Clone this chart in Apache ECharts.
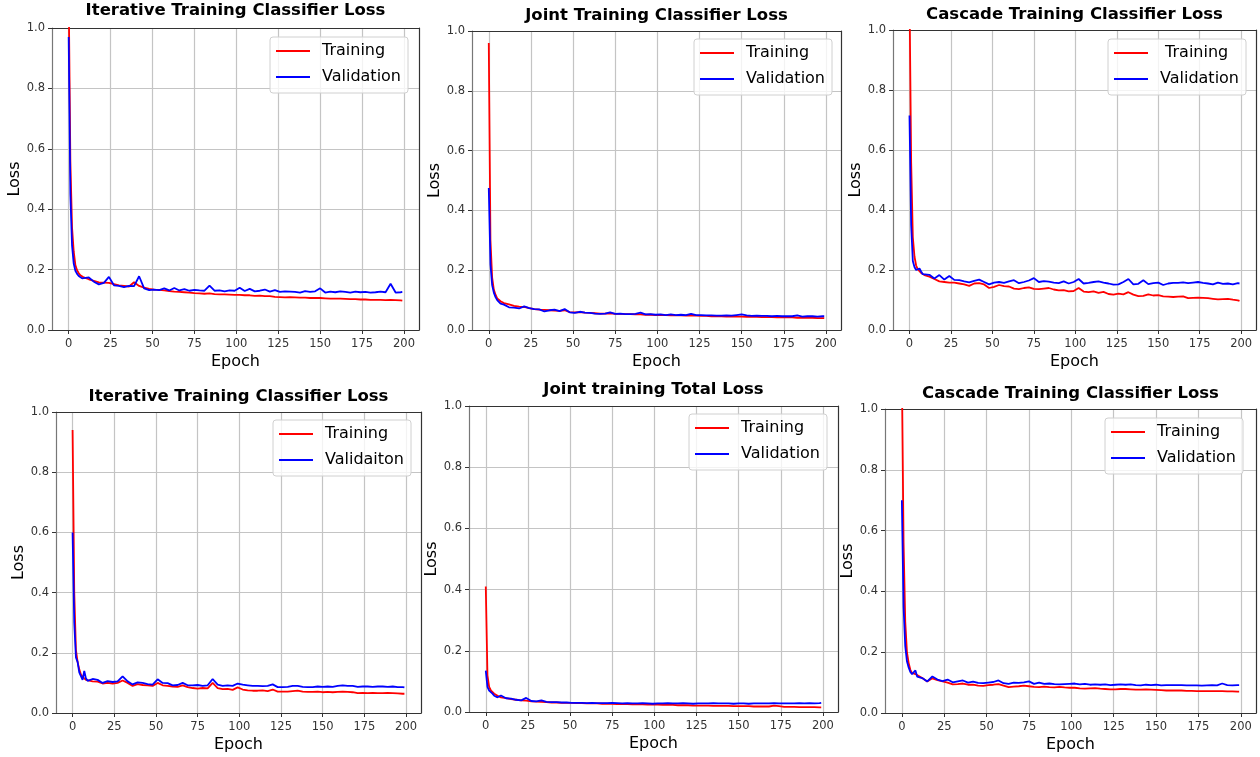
<!DOCTYPE html>
<html>
<head>
<meta charset="utf-8">
<script src="https://cdn.jsdelivr.net/npm/echarts@6/dist/echarts.min.js"></script>
<style>
  html, body { margin: 0; padding: 0; background: #fff; }
  #chart { width: 1260px; height: 757px; }
</style>
</head>
<body>
<div id="chart"></div>
<script>
// epochs the curves were read at (denser at the start, every 3 epochs after)
const epochs = [0, 1, 2, 3, 4, 5, 6, 7, 8, 9,
  12, 15, 18, 21, 24, 27, 30, 33, 36, 39,
  42, 45, 48, 51, 54, 57, 60, 63, 66, 69,
  72, 75, 78, 81, 84, 87, 90, 93, 96, 99,
  102, 105, 108, 111, 114, 117, 120, 123, 126, 129,
  132, 135, 138, 141, 144, 147, 150, 153, 156, 159,
  162, 165, 168, 171, 174, 177, 180, 183, 186, 189,
  192, 195, 198, 199]

const xTicks = [0, 25, 50, 75, 100, 125, 150, 175, 200]
const yTicks = [0, 0.2, 0.4, 0.6, 0.8, 1.0]

// top left: Iterative Training Classifier Loss
const trainIt1 = [1.12, 0.56, 0.34, 0.26, 0.215, 0.198, 0.188, 0.181, 0.177, 0.174,
  0.168, 0.163, 0.158, 0.157, 0.156, 0.152, 0.148, 0.146, 0.144, 0.158,
  0.146, 0.14, 0.136, 0.134, 0.133, 0.131, 0.129, 0.127, 0.126, 0.125,
  0.124, 0.122, 0.121, 0.12, 0.121, 0.119, 0.118, 0.118, 0.117, 0.116,
  0.116, 0.115, 0.115, 0.113, 0.114, 0.112, 0.112, 0.11, 0.109, 0.108,
  0.109, 0.108, 0.107, 0.107, 0.106, 0.106, 0.106, 0.105, 0.104, 0.104,
  0.104, 0.103, 0.102, 0.102, 0.101, 0.101, 0.1, 0.1, 0.1, 0.099,
  0.1, 0.099, 0.098, 0.097]
const valIt1 = [0.97, 0.45, 0.28, 0.22, 0.196, 0.186, 0.179, 0.174, 0.171, 0.169,
  0.174, 0.16, 0.151, 0.156, 0.176, 0.148, 0.146, 0.142, 0.146, 0.145,
  0.178, 0.138, 0.132, 0.134, 0.132, 0.138, 0.131, 0.139, 0.131, 0.135,
  0.13, 0.133, 0.131, 0.13, 0.147, 0.13, 0.131, 0.128, 0.131, 0.13,
  0.14, 0.129, 0.136, 0.128, 0.13, 0.134, 0.127, 0.132, 0.126, 0.128,
  0.127, 0.126, 0.124, 0.129, 0.126, 0.128, 0.138, 0.124, 0.127, 0.125,
  0.128, 0.126, 0.124, 0.127, 0.125, 0.126, 0.124, 0.125, 0.127, 0.125,
  0.153, 0.124, 0.125, 0.126]

// top middle: Joint Training Classifier Loss
const trainJt1 = [0.96, 0.3, 0.175, 0.135, 0.118, 0.106, 0.1, 0.096, 0.093, 0.09,
  0.086, 0.081, 0.078, 0.077, 0.073, 0.07, 0.068, 0.067, 0.066, 0.065,
  0.064, 0.066, 0.06, 0.059, 0.06, 0.058, 0.057, 0.056, 0.055, 0.055,
  0.056, 0.054, 0.054, 0.053, 0.053, 0.052, 0.052, 0.051, 0.051, 0.05,
  0.05, 0.05, 0.049, 0.049, 0.049, 0.048, 0.048, 0.048, 0.047, 0.047,
  0.046, 0.046, 0.046, 0.045, 0.045, 0.045, 0.045, 0.044, 0.044, 0.044,
  0.043, 0.043, 0.043, 0.042, 0.042, 0.042, 0.042, 0.041, 0.041, 0.041,
  0.041, 0.04, 0.04, 0.04]
const valJt1 = [0.475, 0.22, 0.15, 0.125, 0.11, 0.1, 0.096, 0.088, 0.083, 0.085,
  0.076, 0.075, 0.072, 0.079, 0.073, 0.07, 0.069, 0.062, 0.066, 0.068,
  0.063, 0.07, 0.059, 0.057, 0.061, 0.058, 0.057, 0.055, 0.054, 0.055,
  0.059, 0.054, 0.055, 0.053, 0.053, 0.054, 0.058, 0.052, 0.053, 0.051,
  0.052, 0.05, 0.052, 0.05, 0.051, 0.05, 0.054, 0.05, 0.05, 0.049,
  0.049, 0.048, 0.048, 0.049, 0.048, 0.05, 0.052, 0.049, 0.047, 0.048,
  0.047, 0.047, 0.046, 0.047, 0.046, 0.046, 0.046, 0.049, 0.045, 0.046,
  0.046, 0.045, 0.046, 0.046]

// top right: Cascade Training Classifier Loss
const trainCc1 = [1.12, 0.56, 0.31, 0.245, 0.215, 0.202, 0.196, 0.19, 0.186, 0.183,
  0.178, 0.17, 0.162, 0.16, 0.158, 0.158, 0.155, 0.152, 0.147, 0.155,
  0.156, 0.152, 0.14, 0.144, 0.15, 0.146, 0.145, 0.138, 0.136, 0.14,
  0.142, 0.137, 0.136, 0.138, 0.14, 0.135, 0.132, 0.133, 0.129, 0.13,
  0.14, 0.128, 0.126, 0.129, 0.124, 0.127, 0.12, 0.118, 0.121, 0.119,
  0.126, 0.118, 0.113, 0.114, 0.119, 0.115, 0.116, 0.112, 0.111, 0.11,
  0.111, 0.112, 0.106, 0.107, 0.108, 0.107, 0.106, 0.104, 0.102, 0.103,
  0.104, 0.101, 0.099, 0.097]
const valCc1 = [0.715, 0.35, 0.23, 0.21, 0.2, 0.2, 0.205, 0.195, 0.186, 0.18,
  0.184, 0.172, 0.183, 0.168, 0.18, 0.167, 0.166, 0.162, 0.159, 0.164,
  0.168, 0.16, 0.152, 0.158, 0.16, 0.157, 0.162, 0.166, 0.156, 0.16,
  0.165, 0.173, 0.16, 0.163, 0.161, 0.158, 0.156, 0.162, 0.155, 0.16,
  0.17, 0.155, 0.157, 0.16, 0.162, 0.158, 0.155, 0.151, 0.152, 0.16,
  0.17, 0.152, 0.154, 0.166, 0.153, 0.156, 0.158, 0.15, 0.155, 0.157,
  0.157, 0.159, 0.156, 0.158, 0.16, 0.157, 0.155, 0.152, 0.158, 0.154,
  0.155, 0.152, 0.156, 0.155]

// bottom left: Iterative Training Classifier Loss
const trainIt2 = [0.94, 0.4, 0.21, 0.17, 0.145, 0.128, 0.12, 0.115, 0.11, 0.107,
  0.105, 0.104, 0.098, 0.1, 0.098, 0.1, 0.108, 0.1, 0.09, 0.096,
  0.093, 0.092, 0.09, 0.1, 0.092, 0.09, 0.088, 0.087, 0.092, 0.086,
  0.083, 0.081, 0.083, 0.082, 0.1, 0.083, 0.079, 0.08, 0.077, 0.085,
  0.078, 0.075, 0.074, 0.074, 0.075, 0.073, 0.078, 0.071, 0.071, 0.071,
  0.073, 0.074, 0.071, 0.07, 0.07, 0.071, 0.069, 0.07, 0.069, 0.07,
  0.071, 0.07, 0.069, 0.066, 0.067, 0.066, 0.067, 0.066, 0.066, 0.067,
  0.066, 0.065, 0.064, 0.064]
const valIt2 = [0.6, 0.3, 0.185, 0.17, 0.135, 0.13, 0.11, 0.14, 0.115, 0.107,
  0.113, 0.11, 0.1, 0.106, 0.103, 0.105, 0.122, 0.105, 0.095, 0.102,
  0.1, 0.096, 0.094, 0.112, 0.1, 0.099, 0.092, 0.093, 0.1, 0.092,
  0.092, 0.093, 0.09, 0.092, 0.113, 0.094, 0.09, 0.092, 0.09, 0.098,
  0.094, 0.092, 0.09, 0.09, 0.089, 0.09, 0.095, 0.086, 0.086, 0.087,
  0.09, 0.09, 0.087, 0.086, 0.086, 0.088, 0.087, 0.088, 0.087, 0.09,
  0.092, 0.09, 0.09, 0.087, 0.088, 0.088, 0.087, 0.088, 0.088, 0.087,
  0.088, 0.086, 0.086, 0.085]

// bottom middle: Joint training Total Loss
const trainJt2 = [0.41, 0.12, 0.082, 0.071, 0.065, 0.06, 0.056, 0.053, 0.05, 0.048,
  0.045, 0.042, 0.04, 0.038, 0.037, 0.035, 0.034, 0.033, 0.032, 0.031,
  0.031, 0.03, 0.03, 0.03, 0.029, 0.029, 0.028, 0.028, 0.028, 0.027,
  0.027, 0.027, 0.026, 0.026, 0.026, 0.025, 0.025, 0.025, 0.024, 0.024,
  0.024, 0.023, 0.023, 0.023, 0.022, 0.022, 0.022, 0.021, 0.021, 0.021,
  0.021, 0.02, 0.02, 0.02, 0.02, 0.019, 0.019, 0.019, 0.019, 0.018,
  0.018, 0.018, 0.018, 0.021, 0.019, 0.017, 0.017, 0.017, 0.016, 0.016,
  0.016, 0.016, 0.015, 0.015]
const valJt2 = [0.135, 0.082, 0.07, 0.065, 0.06, 0.053, 0.05, 0.048, 0.047, 0.054,
  0.045, 0.044, 0.04, 0.038, 0.046, 0.036, 0.035, 0.038, 0.033, 0.032,
  0.032, 0.031, 0.031, 0.03, 0.03, 0.03, 0.029, 0.03, 0.029, 0.029,
  0.029, 0.03, 0.029, 0.028, 0.029, 0.028, 0.028, 0.029, 0.028, 0.027,
  0.028, 0.028, 0.029, 0.028, 0.028, 0.029, 0.028, 0.027, 0.028, 0.028,
  0.028, 0.029, 0.028, 0.028, 0.028, 0.027, 0.028, 0.028, 0.027, 0.028,
  0.028, 0.028, 0.028, 0.029, 0.028, 0.028, 0.028, 0.028, 0.029, 0.028,
  0.029, 0.028, 0.029, 0.03]

// bottom right: Cascade Training Classifier Loss
const trainCc2 = [1.12, 0.56, 0.3, 0.2, 0.165, 0.142, 0.132, 0.13, 0.128, 0.124,
  0.115, 0.104, 0.114, 0.108, 0.104, 0.1, 0.094, 0.095, 0.097, 0.093,
  0.093, 0.09, 0.089, 0.092, 0.093, 0.095, 0.09, 0.085, 0.087, 0.088,
  0.09, 0.088, 0.086, 0.085, 0.087, 0.085, 0.084, 0.086, 0.084, 0.083,
  0.083, 0.081, 0.08, 0.081, 0.082, 0.08, 0.079, 0.078, 0.078, 0.079,
  0.079, 0.078, 0.077, 0.077, 0.078, 0.077, 0.076, 0.075, 0.074, 0.074,
  0.074, 0.074, 0.073, 0.073, 0.072, 0.072, 0.072, 0.072, 0.072, 0.072,
  0.071, 0.071, 0.07, 0.07]
const valCc2 = [0.7, 0.35, 0.22, 0.17, 0.15, 0.135, 0.128, 0.13, 0.14, 0.12,
  0.115, 0.104, 0.12, 0.11, 0.105, 0.11, 0.101, 0.104, 0.107, 0.1,
  0.103, 0.099, 0.098, 0.1, 0.102, 0.107, 0.098, 0.096, 0.1, 0.099,
  0.101, 0.104, 0.096, 0.1, 0.096, 0.097, 0.095, 0.094, 0.095, 0.096,
  0.097, 0.094, 0.096, 0.093, 0.094, 0.093, 0.094, 0.092, 0.093, 0.094,
  0.093, 0.094, 0.092, 0.091, 0.093, 0.092, 0.093, 0.091, 0.092, 0.092,
  0.092, 0.092, 0.091, 0.091, 0.091, 0.09, 0.091, 0.092, 0.091, 0.097,
  0.092, 0.091, 0.092, 0.092]

const titles = ['Iterative Training Classifier Loss', 'Joint Training Classifier Loss', 'Cascade Training Classifier Loss',
  'Iterative Training Classifier Loss', 'Joint training Total Loss', 'Cascade Training Classifier Loss']
const trainNames = ['Training', 'Training', ' Training', 'Training', 'Training', 'Training']
const valNames = ['Validation', 'Validation', 'Validation', 'Validaiton', 'Validation', 'Validation']
const trainData = [trainIt1, trainJt1, trainCc1, trainIt2, trainJt2, trainCc2]
const valData = [valIt1, valJt1, valCc1, valIt2, valJt2, valCc2]

// plot boxes [left, top, width, height], title top, legend [left, top]
const boxes = [
  [52, 28, 367, 302], [472, 31, 369, 299], [893, 30, 363, 300],
  [56, 412, 365, 301], [469, 406, 369, 306], [885, 409, 371, 304]
]
const titleTops = [2, 7, 6, 388, 381, 385]
const legendPos = [[270, 37], [694, 39], [1108, 39], [273, 420], [689, 414], [1105, 418]]

const font = 'DejaVu Sans'
const xMin = -9.95
const xMax = 208.95

const pairs = (ys) => epochs.map((e, i) => [e, ys[i]])

const grid = [], xAxis = [], yAxis = [], title = [], legend = [], series = []
boxes.forEach((b, i) => {
  grid.push({ left: b[0], top: b[1], width: b[2], height: b[3] })
  title.push({
    text: titles[i],
    left: b[0] + b[2] / 2,
    top: titleTops[i],
    textAlign: 'center',
    padding: 0,
    textStyle: { fontFamily: font, fontSize: 16.5, fontWeight: 'bold', color: '#000' }
  })
  legend.push({
    data: [trainNames[i], valNames[i]],
    orient: 'vertical',
    left: legendPos[i][0],
    top: legendPos[i][1],
    padding: [6, 7, 8, 6],
    itemGap: 10,
    itemWidth: 34,
    itemHeight: 2,
    icon: 'rect',
    backgroundColor: 'rgba(255,255,255,0.8)',
    borderColor: '#d0d0d0',
    borderWidth: 1,
    borderRadius: 3,
    textStyle: { fontFamily: font, fontSize: 16, color: '#000', padding: [0, 0, 0, 7] }
  })
  xAxis.push({
    type: 'value', gridIndex: i, min: xMin, max: xMax,
    name: 'Epoch', nameLocation: 'middle', nameGap: 24,
    nameTextStyle: { fontFamily: font, fontSize: 16, color: '#000' },
    axisLine: { show: true, onZero: false, lineStyle: { color: '#333', width: 1.2 } },
    axisTick: { show: true, length: 4, customValues: xTicks, lineStyle: { color: '#333' } },
    axisLabel: { customValues: xTicks, margin: 8, fontFamily: font, fontSize: 11.5, color: '#333' },
    splitLine: { show: true, lineStyle: { color: '#c4c4c4', width: 1.2 } }
  })
  yAxis.push({
    type: 'value', gridIndex: i, min: 0, max: 1, interval: 0.2,
    name: 'Loss', nameLocation: 'middle', nameGap: 27,
    nameTextStyle: { fontFamily: font, fontSize: 16, color: '#000' },
    axisLine: { show: true, onZero: false, lineStyle: { color: '#777', width: 1.2 } },
    axisTick: { show: true, length: 4, lineStyle: { color: '#333' } },
    axisLabel: { margin: 7, fontFamily: font, fontSize: 11.5, color: '#333', formatter: (v) => v.toFixed(1) },
    splitLine: { show: true, lineStyle: { color: '#c4c4c4', width: 1.2 } }
  })
  series.push({
    name: trainNames[i], type: 'line', xAxisIndex: i, yAxisIndex: i,
    data: pairs(trainData[i]), symbol: 'none', clip: true,
    color: '#f00', lineStyle: { color: '#f00', width: 1.8 }
  })
  series.push({
    name: valNames[i], type: 'line', xAxisIndex: i, yAxisIndex: i,
    data: pairs(valData[i]), symbol: 'none', clip: true,
    color: '#00f', lineStyle: { color: '#00f', width: 1.8 }
  })
})
// top and right spines
boxes.forEach((b, i) => {
  xAxis.push({
    type: 'value', gridIndex: i, min: xMin, max: xMax, position: 'top',
    axisLine: { show: true, onZero: false, lineStyle: { color: '#333', width: 1.2 } },
    axisTick: { show: false }, axisLabel: { show: false }, splitLine: { show: false }
  })
  yAxis.push({
    type: 'value', gridIndex: i, min: 0, max: 1, position: 'right',
    axisLine: { show: true, onZero: false, lineStyle: { color: '#333', width: 1.2 } },
    axisTick: { show: false }, axisLabel: { show: false }, splitLine: { show: false }
  })
})

const chart = echarts.init(document.getElementById('chart'), null, { renderer: 'canvas' })
chart.setOption({
  animation: false,
  backgroundColor: '#fff',
  title: title,
  legend: legend,
  grid: grid,
  xAxis: xAxis,
  yAxis: yAxis,
  series: series
})
</script>
</body>
</html>
